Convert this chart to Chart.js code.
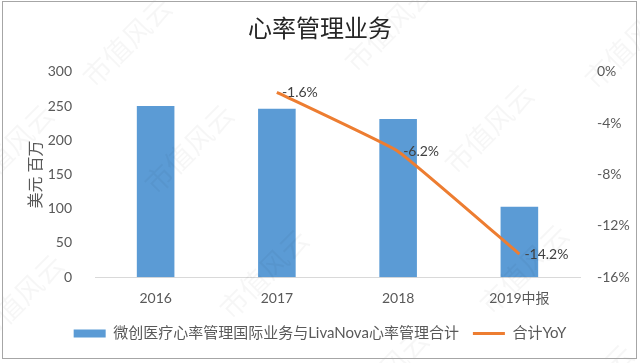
<!DOCTYPE html>
<html>
<head>
<meta charset="utf-8">
<script src="https://cdn.jsdelivr.net/npm/chart.js@4/dist/chart.umd.min.js"></script>
<style>
  html, body { margin: 0; padding: 0; background: #fff; }
  #wrap { position: relative; width: 640px; height: 363px; }
  #frame { position: absolute; left: 2px; top: 1px; width: 635px; height: 358px; border: 1px solid #a6a6a6; box-sizing: border-box; pointer-events: none; }
</style>
</head>
<body>
<div id="wrap">
  <canvas id="grafico" width="640" height="363"></canvas>
  <div id="frame"></div>
</div>
<script>
// datos del grafico
const categorias = ['2016', '2017', '2018', '2019中报'];
const ventas = [250, 246, 231, 103];          // 美元 百万
const yoy = [null, -1.6, -6.2, -14.2];        // 合计YoY (%)
const ticksIzq = [0, 50, 100, 150, 200, 250, 300];
const ticksDer = [0, -4, -8, -12, -16];
const marcaAgua = '市值风云';

const fuente = "Lato, 'Noto Sans CJK SC', sans-serif";
const gris = '#595959';

// etiquetas de datos para la linea
const etiquetasYoY = {
  id: 'etiquetasYoY',
  afterDatasetsDraw(chart) {
    const ctx = chart.ctx;
    const meta = chart.getDatasetMeta(1);
    ctx.save();
    ctx.font = '14px ' + fuente;
    ctx.fillStyle = '#404040';
    ctx.textBaseline = 'middle';
    ctx.textAlign = 'left';
    meta.data.forEach((pt, i) => {
      if (yoy[i] === null) return;
      ctx.fillText(yoy[i].toFixed(1) + '%', pt.x + 5, pt.y);
    });
    ctx.restore();
  }
};

// marca de agua tenue en diagonal
const marca = {
  id: 'marca',
  afterDraw(chart) {
    const ctx = chart.ctx;
    const sitios = [[128, 43], [390, 28], [630, 45], [190, 150], [490, 130], [265, 275], [525, 270], [10, 150], [20, 300], [385, 375], [590, 390]];
    ctx.save();
    ctx.font = '28px ' + fuente;
    ctx.fillStyle = 'rgba(0,0,0,0.035)';
    ctx.textAlign = 'center';
    ctx.textBaseline = 'middle';
    sitios.forEach(([x, y]) => {
      ctx.save();
      ctx.translate(x, y);
      ctx.rotate(-Math.PI / 4);
      ctx.fillText(marcaAgua, 0, 0);
      ctx.restore();
    });
    ctx.restore();
  }
};

const ctx = document.getElementById('grafico').getContext('2d');
new Chart(ctx, {
  data: {
    labels: categorias,
    datasets: [{
      type: 'bar',
      label: '微创医疗心率管理国际业务与LivaNova心率管理合计',
      data: ventas,
      backgroundColor: '#5B9BD5',
      borderWidth: 0,
      barPercentage: 0.62,
      categoryPercentage: 0.5,
      yAxisID: 'y',
      order: 2,
      pointStyle: 'rect'
    }, {
      type: 'line',
      label: '合计YoY',
      data: yoy,
      borderColor: '#ED7D31',
      backgroundColor: '#ED7D31',
      borderWidth: 3,
      pointRadius: 0,
      tension: 0.1,
      yAxisID: 'y1',
      order: 1,
      pointStyle: 'line'
    }]
  },
  options: {
    responsive: false,
    animation: false,
    layout: { padding: { left: 8, right: 8, top: 14, bottom: 12 } },
    plugins: {
      title: {
        display: true,
        text: '心率管理业务',
        color: '#262626',
        font: { family: fuente, size: 24, weight: 'normal' },
        padding: { top: 1, bottom: 28 }
      },
      legend: {
        position: 'bottom',
        labels: {
          usePointStyle: true,
          pointStyleWidth: 32,
          boxHeight: 8,
          color: gris,
          font: { family: fuente, size: 15 },
          padding: 14,
          sort: (a, b) => a.datasetIndex - b.datasetIndex
        }
      },
      tooltip: { enabled: false }
    },
    scales: {
      x: {
        grid: { display: false },
        border: { color: '#d9d9d9' },
        ticks: { color: gris, font: { family: fuente, size: 14 }, padding: 5 }
      },
      y: {
        position: 'left',
        min: 0, max: 300,
        afterBuildTicks: ax => { ax.ticks = ticksIzq.map(v => ({ value: v })); },
        afterFit: ax => { ax.width = 87; },
        grid: { display: false },
        border: { display: false },
        ticks: { color: gris, font: { family: fuente, size: 14 }, padding: 15 },
        title: {
          display: true,
          text: '美元 百万',
          color: gris,
          font: { family: fuente, size: 16 },
          padding: { top: 18, bottom: 0 }
        }
      },
      y1: {
        position: 'right',
        min: -16, max: 0,
        afterBuildTicks: ax => { ax.ticks = ticksDer.map(v => ({ value: v })); },
        afterFit: ax => { ax.width = 52; },
        grid: { display: false },
        border: { display: false },
        ticks: {
          color: gris,
          font: { family: fuente, size: 14 },
          padding: 9,
          callback: v => v + '%'
        }
      }
    }
  },
  plugins: [etiquetasYoY, marca]
});
</script>
</body>
</html>
